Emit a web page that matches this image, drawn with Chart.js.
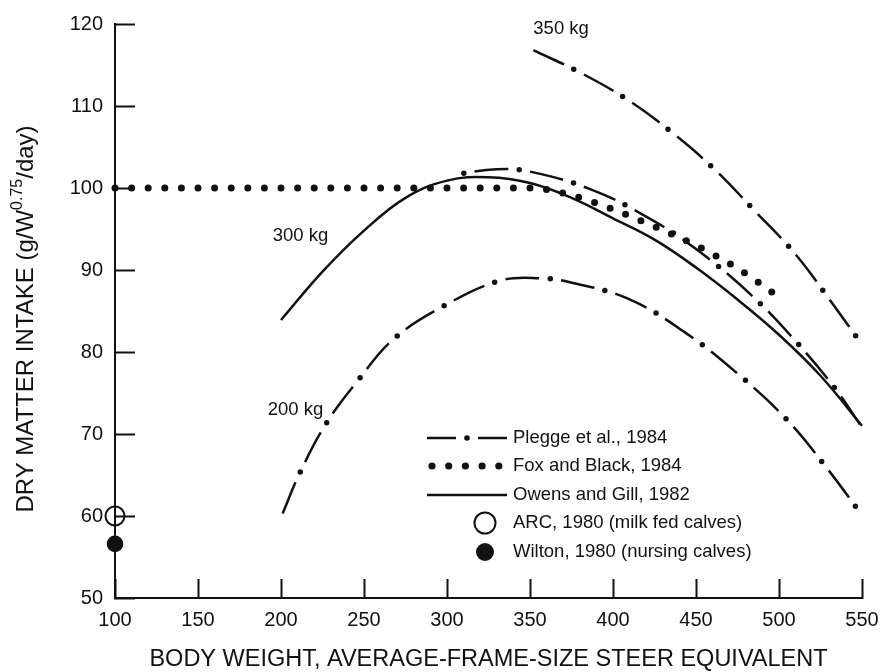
<!DOCTYPE html>
<html>
<head>
<meta charset="utf-8">
<title>Dry matter intake vs body weight</title>
<script src="https://cdn.jsdelivr.net/npm/chart.js@4.4.1/dist/chart.umd.min.js"></script>
<style>
  html, body { margin: 0; padding: 0; background: #fff; }
</style>
</head>
<body>
<canvas id="intake-chart" width="881" height="672"></canvas>
<script>
/* =========================
   DATA (g / W^0.75 / day vs kg)
   ========================= */
// Plegge et al., 1984 - one curve per starting weight
const plegge200Weight = [201, 211, 227, 247, 268, 298, 332, 357, 374, 409, 444, 476, 505, 529, 550];
const plegge200Intake = [60.3, 65.1, 71.2, 76.7, 81.6, 85.6, 88.7, 89.0, 88.5, 86.5, 82.3, 77.2, 71.7, 65.8, 60.1];

const plegge300Weight = [307, 330, 350, 387, 420, 449, 483, 511, 534, 550];
const plegge300Intake = [101.7, 102.3, 102.0, 99.8, 96.5, 92.7, 87.0, 81.1, 75.5, 70.8];

const plegge350Weight = [352, 381, 410, 436, 460, 485, 510, 529, 550];
const plegge350Intake = [116.8, 114.0, 110.6, 106.7, 102.5, 97.3, 91.9, 86.8, 80.9];

// Fox and Black, 1984
const foxWeight = [100, 200, 300, 350, 375, 400, 425, 450, 475, 500];
const foxIntake = [100, 100, 100, 100, 99.1, 97.4, 95.3, 93.0, 90.2, 86.7];

// Owens and Gill, 1982
const owensWeight = [200, 225, 250, 275, 300, 325, 350, 375, 400, 425, 450, 475, 500, 525, 550];
const owensIntake = [83.9, 89.8, 94.8, 98.8, 100.9, 101.3, 100.6, 98.8, 96.3, 93.7, 90.3, 86.4, 82.1, 77.1, 71.0];

// single calf values
const arcWeight = [100];
const arcIntake = [60.0];
const wiltonWeight = [100];
const wiltonIntake = [56.6];

const legendLabels = [
  "Plegge et al., 1984",
  "Fox and Black, 1984",
  "Owens and Gill, 1982",
  "ARC, 1980 (milk fed calves)",
  "Wilton, 1980 (nursing calves)",
];

/* =========================
   HELPERS
   ========================= */
const FONT = '"Liberation Sans", Arial, Helvetica, sans-serif';
const INK = "#111111";

const pts = (xs, ys) => xs.map((x, i) => ({ x, y: ys[i] }));

// common look of every curve (set per dataset so the colors plugin leaves them alone)
const curve = {
  borderColor: INK,
  pointRadius: 0,
  tension: 0.4,
  fill: false,
  clip: false,
};

// dash-dot curve = two passes on the same points: dashes, then round dots centred in the gaps
const DASH = 34;
const PERIOD = 56;
function dashDot(label, data, start = 0) {
  return [
    {
      ...curve,
      label,
      data,
      borderWidth: 2.5,
      borderDash: [DASH, PERIOD - DASH],
      borderDashOffset: start,
    },
    {
      ...curve,
      label: label + " dots",
      data,
      borderWidth: 5.5,
      borderCapStyle: "round",
      borderDash: [0, PERIOD],
      borderDashOffset: (start + (PERIOD - DASH) / 2) % PERIOD,
    },
  ];
}

function dot(ctx, x, y, r) {
  ctx.beginPath();
  ctx.arc(x, y, r, 0, Math.PI * 2);
  ctx.fill();
}

/* =========================
   EXTRA DRAWING: labels, legend, y title
   ========================= */
const notes = {
  id: "notes",
  afterDraw(chart) {
    const { ctx, scales: { x, y } } = chart;
    ctx.save();
    ctx.fillStyle = INK;
    ctx.strokeStyle = INK;
    ctx.textBaseline = "middle";
    ctx.textAlign = "left";

    // weight class next to each Plegge curve
    ctx.font = `18.5px ${FONT}`;
    ctx.fillText("350 kg", x.getPixelForValue(352), y.getPixelForValue(119.4));
    ctx.fillText("300 kg", x.getPixelForValue(195), y.getPixelForValue(94.2));
    ctx.fillText("200 kg", x.getPixelForValue(192), y.getPixelForValue(72.9));

    // legend
    const rows = [438, 466, 495, 523, 552];
    ctx.lineWidth = 2.5;
    ctx.beginPath();
    ctx.moveTo(427, rows[0]);
    ctx.lineTo(456, rows[0]);
    ctx.moveTo(478, rows[0]);
    ctx.lineTo(507, rows[0]);
    ctx.moveTo(427, rows[2]);
    ctx.lineTo(507, rows[2]);
    ctx.stroke();
    dot(ctx, 467, rows[0], 2.8);
    for (let i = 0; i < 5; i++) dot(ctx, 432 + i * 16.7, rows[1], 3.6);
    ctx.lineWidth = 2;
    ctx.beginPath();
    ctx.arc(485, rows[3], 10.5, 0, Math.PI * 2);
    ctx.stroke();
    dot(ctx, 485, rows[4], 9);

    ctx.font = `18.5px ${FONT}`;
    legendLabels.forEach((t, i) => ctx.fillText(t, 513, rows[i]));

    // y axis title, exponent raised
    const big = `24px ${FONT}`;
    const small = `16px ${FONT}`;
    const parts = [
      ["DRY MATTER INTAKE (g/W", big, 0],
      ["0.75", small, -8],
      ["/day)", big, 0],
    ];
    const widths = parts.map(([t, f]) => { ctx.font = f; return ctx.measureText(t).width; });
    const total = widths.reduce((a, b) => a + b, 0);
    ctx.translate(26, 319);
    ctx.rotate(-Math.PI / 2);
    let cx = -total / 2;
    parts.forEach(([t, f, dy], i) => {
      ctx.font = f;
      ctx.fillText(t, cx, dy);
      cx += widths[i];
    });

    ctx.restore();
  },
};

/* =========================
   CHART
   ========================= */
new Chart(document.getElementById("intake-chart"), {
  type: "line",
  data: {
    datasets: [
      ...dashDot("Plegge 350 kg", pts(plegge350Weight, plegge350Intake), 0),
      ...dashDot("Plegge 300 kg", pts(plegge300Weight, plegge300Intake), 40),
      ...dashDot("Plegge 200 kg", pts(plegge200Weight, plegge200Intake), 0),
      {
        ...curve,
        label: "Fox and Black, 1984",
        data: pts(foxWeight, foxIntake),
        cubicInterpolationMode: "monotone",
        borderWidth: 7,
        borderCapStyle: "round",
        borderDash: [0, 16.6],
      },
      {
        ...curve,
        label: "Owens and Gill, 1982",
        data: pts(owensWeight, owensIntake),
        borderWidth: 2.5,
      },
      {
        ...curve,
        label: "ARC, 1980",
        data: pts(arcWeight, arcIntake),
        showLine: false,
        pointRadius: 9.5,
        pointBorderWidth: 2,
        pointBorderColor: INK,
        pointBackgroundColor: "rgba(0,0,0,0)",
      },
      {
        ...curve,
        label: "Wilton, 1980",
        data: pts(wiltonWeight, wiltonIntake),
        showLine: false,
        pointRadius: 8.3,
        pointBorderWidth: 0,
        pointBorderColor: INK,
        pointBackgroundColor: INK,
      },
    ],
  },
  options: {
    responsive: false,
    animation: false,
    events: [],
    layout: { padding: { top: 24, right: 19, left: 0, bottom: 0 } },
    plugins: {
      legend: { display: false },
      tooltip: { enabled: false },
    },
    scales: {
      x: {
        type: "linear",
        min: 100,
        max: 550,
        ticks: { stepSize: 50, color: INK, font: { size: 20, family: FONT }, padding: 29 },
        grid: { drawOnChartArea: false, tickLength: -19, tickWidth: 2, tickColor: INK },
        border: { display: true, width: 2, color: INK },
        title: {
          display: true,
          text: "BODY WEIGHT, AVERAGE-FRAME-SIZE STEER EQUIVALENT",
          color: INK,
          font: { size: 23.5, family: FONT, lineHeight: 1 },
          padding: { top: 0, bottom: 1 },
        },
        afterFit(scale) {
          scale.height = 74;
          scale.paddingLeft = 0;
          scale.paddingRight = 0;
        },
      },
      y: {
        min: 50,
        max: 120,
        ticks: { stepSize: 10, color: INK, font: { size: 20, family: FONT }, padding: 32 },
        grid: { drawOnChartArea: false, tickLength: -20, tickWidth: 2, tickColor: INK },
        border: { display: true, width: 2, color: INK },
        afterFit(scale) {
          scale.width = 115;
          scale.paddingTop = 0;
          scale.paddingBottom = 0;
        },
      },
    },
  },
  plugins: [notes],
});
</script>
</body>
</html>
